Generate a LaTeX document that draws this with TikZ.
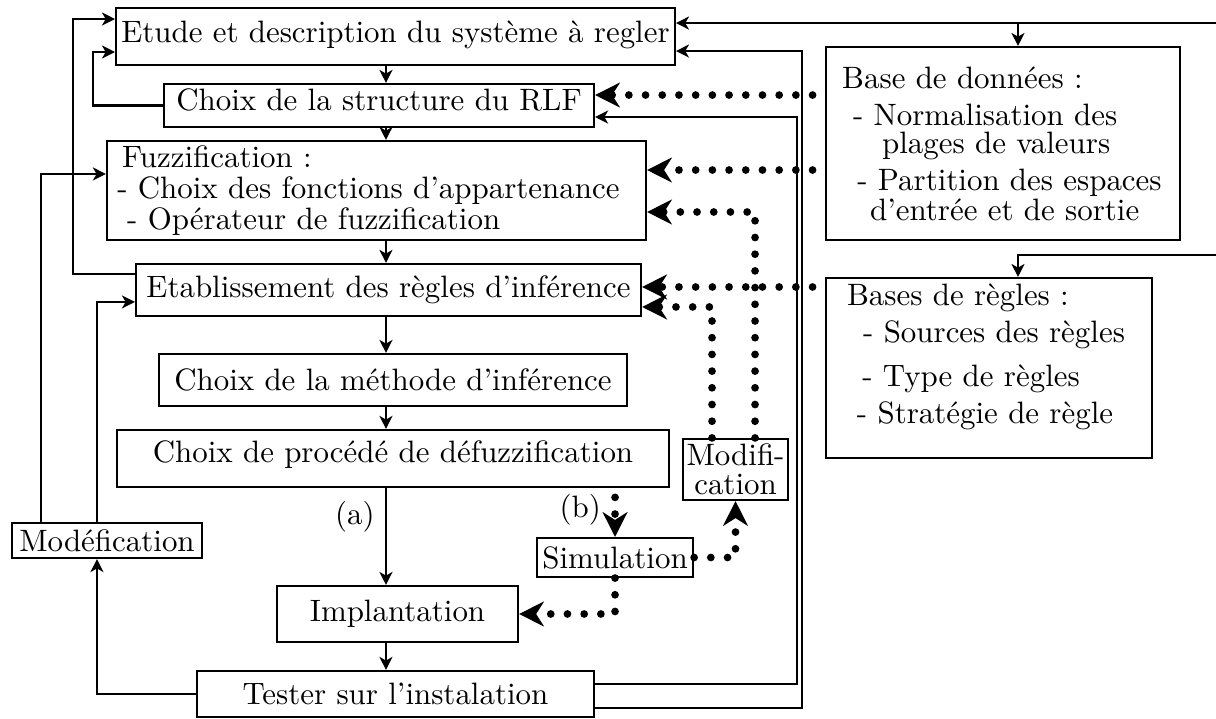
\documentclass[tikz,border=0pt]{standalone}
\usepackage{fontspec}
\usepackage{tikz}
\usetikzlibrary{arrows.meta}

\begin{document}
\begin{tikzpicture}[
        box/.style={rectangle, draw=black, line width=0.7pt, inner sep=1pt},
        link/.style={line width=0.7pt, -{Stealth[length=4.2pt, width=4.2pt, inset=1.2pt]}},
        dotlink/.style={line width=2.5pt, line cap=round, dash pattern=on 0pt off 5.4pt, -{Stealth[length=8pt, width=8pt, inset=2.5pt]}}
    ]
        \useasboundingbox (0, 0) rectangle (13.818, -8.159);

        % Main chain
        \node[box, minimum width=6.35cm, minimum height=0.648cm, text depth=3pt] (etude) at (4.494, -0.415) {Etude et description du système à regler};
        \node[box, minimum width=4.886cm, minimum height=0.489cm, text depth=3.7pt] (struct) at (4.307, -1.199) {Choix de la structure du RLF};
        \node[box, minimum width=6.125cm, minimum height=1.125cm, inner xsep=3.3pt, text width=167.6pt, align=left] (fuzz) at (4.278, -2.165)
            {\hspace*{1.6pt}Fuzzification :\\[-2.1pt]- Choix des fonctions d'appartenance\\[-2.1pt]\hspace*{3.2pt}- Opérateur de fuzzification};
        \node[box, minimum width=5.739cm, minimum height=0.591cm] (etab) at (4.415, -3.295) {Etablissement des règles d'inférence};
        \node[box, minimum width=5.318cm, minimum height=0.591cm] (methode) at (4.466, -4.318) {Choix de la méthode d'inférence};
        \node[box, minimum width=6.273cm, minimum height=0.648cm, text depth=4.3pt] (defuzz) at (4.466, -5.210) {Choix de procédé de défuzzification};
        \node[box, minimum width=2.739cm, minimum height=0.636cm] (implant) at (4.517, -6.977) {Implantation};
        \node[box, minimum width=4.511cm, minimum height=0.523cm] (tester) at (4.494, -7.886) {Tester sur l'instalation};

        % Side boxes
        \node[box, minimum width=2.159cm, minimum height=0.398cm] (modef) at (1.216, -6.142) {Modéfication};
        \node[box, minimum width=1.193cm, minimum height=0.693cm, inner sep=0.5pt, align=center] (modif) at (8.358, -5.335) {Modifi-\\[-2.6pt]cation};
        \node[box, minimum width=1.773cm, minimum height=0.443cm] (simul) at (6.989, -6.335) {Simulation};

        % Knowledge base
        \node[box, minimum width=4.023cm, minimum height=2.193cm, inner xsep=5.2pt, text width=104pt, align=left] (bdd) at (11.398, -1.631)
            {Base de données :\\\hspace*{3.5pt}- Normalisation des\\[-3pt]\hspace*{12.9pt}plages de valeurs\\\hspace*{4.9pt}- Partition des espaces\\[-2.3pt]\hspace*{9pt}d'entrée et de sortie};
        \node[box, minimum width=3.705cm, minimum height=2.045cm, inner xsep=6.8pt, text width=91.8pt, align=left] (bdr) at (11.239, -4.182)
            {Bases de règles :\\\hspace*{5.2pt}- Sources des règles\\[2.3pt]\hspace*{4.9pt}- Type de règles\\\hspace*{3.2pt}- Stratégie de règle\\[-2.9pt]\mbox{}};

        % Rails and edge points
        \coordinate (railA) at (0.830, 0);
        \coordinate (railB) at (1.057, 0);
        \coordinate (spine) at (4.386, 0);
        \coordinate (railC) at (9.057, 0);
        \coordinate (railD) at (9.114, 0);
        \coordinate (tap) at (11.568, 0);
        \coordinate (edge) at (13.818, 0);
        \coordinate (inB) at (13.818, -2.898);

        \coordinate (etE1) at ([yshift=0.153cm]etude.east);
        \coordinate (etE2) at ([yshift=-0.165cm]etude.east);
        \coordinate (etW1) at ([yshift=0.199cm]etude.west);
        \coordinate (etW2) at ([yshift=-0.176cm]etude.west);
        \coordinate (stE1) at ([yshift=0.119cm]struct.east);
        \coordinate (stE2) at ([yshift=-0.131cm]struct.east);
        \coordinate (fzE1) at ([yshift=0.233cm]fuzz.east);
        \coordinate (fzE2) at ([yshift=-0.244cm]fuzz.east);
        \coordinate (fzW) at ([yshift=0.188cm]fuzz.west);
        \coordinate (ebE1) at ([yshift=0.034cm]etab.east);
        \coordinate (ebE2) at ([yshift=-0.193cm]etab.east);
        \coordinate (ebW1) at ([yshift=0.182cm]etab.west);
        \coordinate (ebW2) at ([yshift=-0.136cm]etab.west);
        \coordinate (tsE1) at ([yshift=0.114cm]tester.east);
        \coordinate (tsE2) at ([yshift=-0.159cm]tester.east);
        \coordinate (mdN1) at ([xshift=-0.267cm]modif.north);
        \coordinate (mdN2) at ([xshift=0.222cm]modif.north);
        \coordinate (mfN1) at ([xshift=-0.75cm]modef.north);
        \coordinate (mfN2) at ([xshift=-0.114cm]modef.north);
        \coordinate (mfS) at (mfN2 |- modef.south);

        % Down the chain
        \draw[link] (etude.south -| spine) -- (struct.north -| spine);
        \draw[link] (struct.south -| spine) -- (fuzz.north -| spine);
        \draw[link] (fuzz.south -| spine) -- (etab.north -| spine);
        \draw[link] (etab.south -| spine) -- (methode.north -| spine);
        \draw[link] (methode.south -| spine) -- (defuzz.north -| spine);
        \draw[link] (defuzz.south -| spine) -- node[pos=0.3, left] {(a)} (implant.north -| spine);
        \draw[link] (implant.south -| spine) -- (tester.north -| spine);

        % Feedback on the left
        \draw[link] (ebW1) -- (ebW1 -| railA) |- (etW1);
        \draw[link] (struct.west) -- (struct.west -| railB) |- (etW2);
        \draw[link] (mfN1) |- (fzW);
        \draw[link] (mfN2) |- (ebW2);
        \draw[link] (tester.west) -| (mfS);

        % Feedback on the right
        \draw[link] (tsE1) -- (tsE1 -| railC) |- (stE2);
        \draw[link] (tsE2) -- (tsE2 -| railD) |- (etE2);
        \draw[link] (etE1 -| edge) -- (etE1);
        \draw[link] (etE1 -| tap) -- (tap |- bdd.north);
        \draw[link] (inB) -| (tap |- bdr.north);

        % Dotted links
        \draw[dotlink, shorten <=4pt] (stE1 -| bdd.west) -- (stE1);
        \draw[dotlink, shorten <=4pt] (fzE1 -| bdd.west) -- (fzE1);
        \draw[dotlink, shorten <=4pt] (ebE1 -| bdr.west) -- (ebE1);
        \draw[dotlink] (mdN2) |- (fzE2);
        \draw[dotlink] (mdN1) |- (ebE2);
        \draw[dotlink, shorten <=3pt] (simul.north |- defuzz.south) -- node[pos=0.45, left] {(b)} (simul.north);
        \draw[dotlink] (simul.east) -| (modif.south);
        \draw[dotlink] (simul.south) |- (implant.east);
    \end{tikzpicture}
\end{document}
